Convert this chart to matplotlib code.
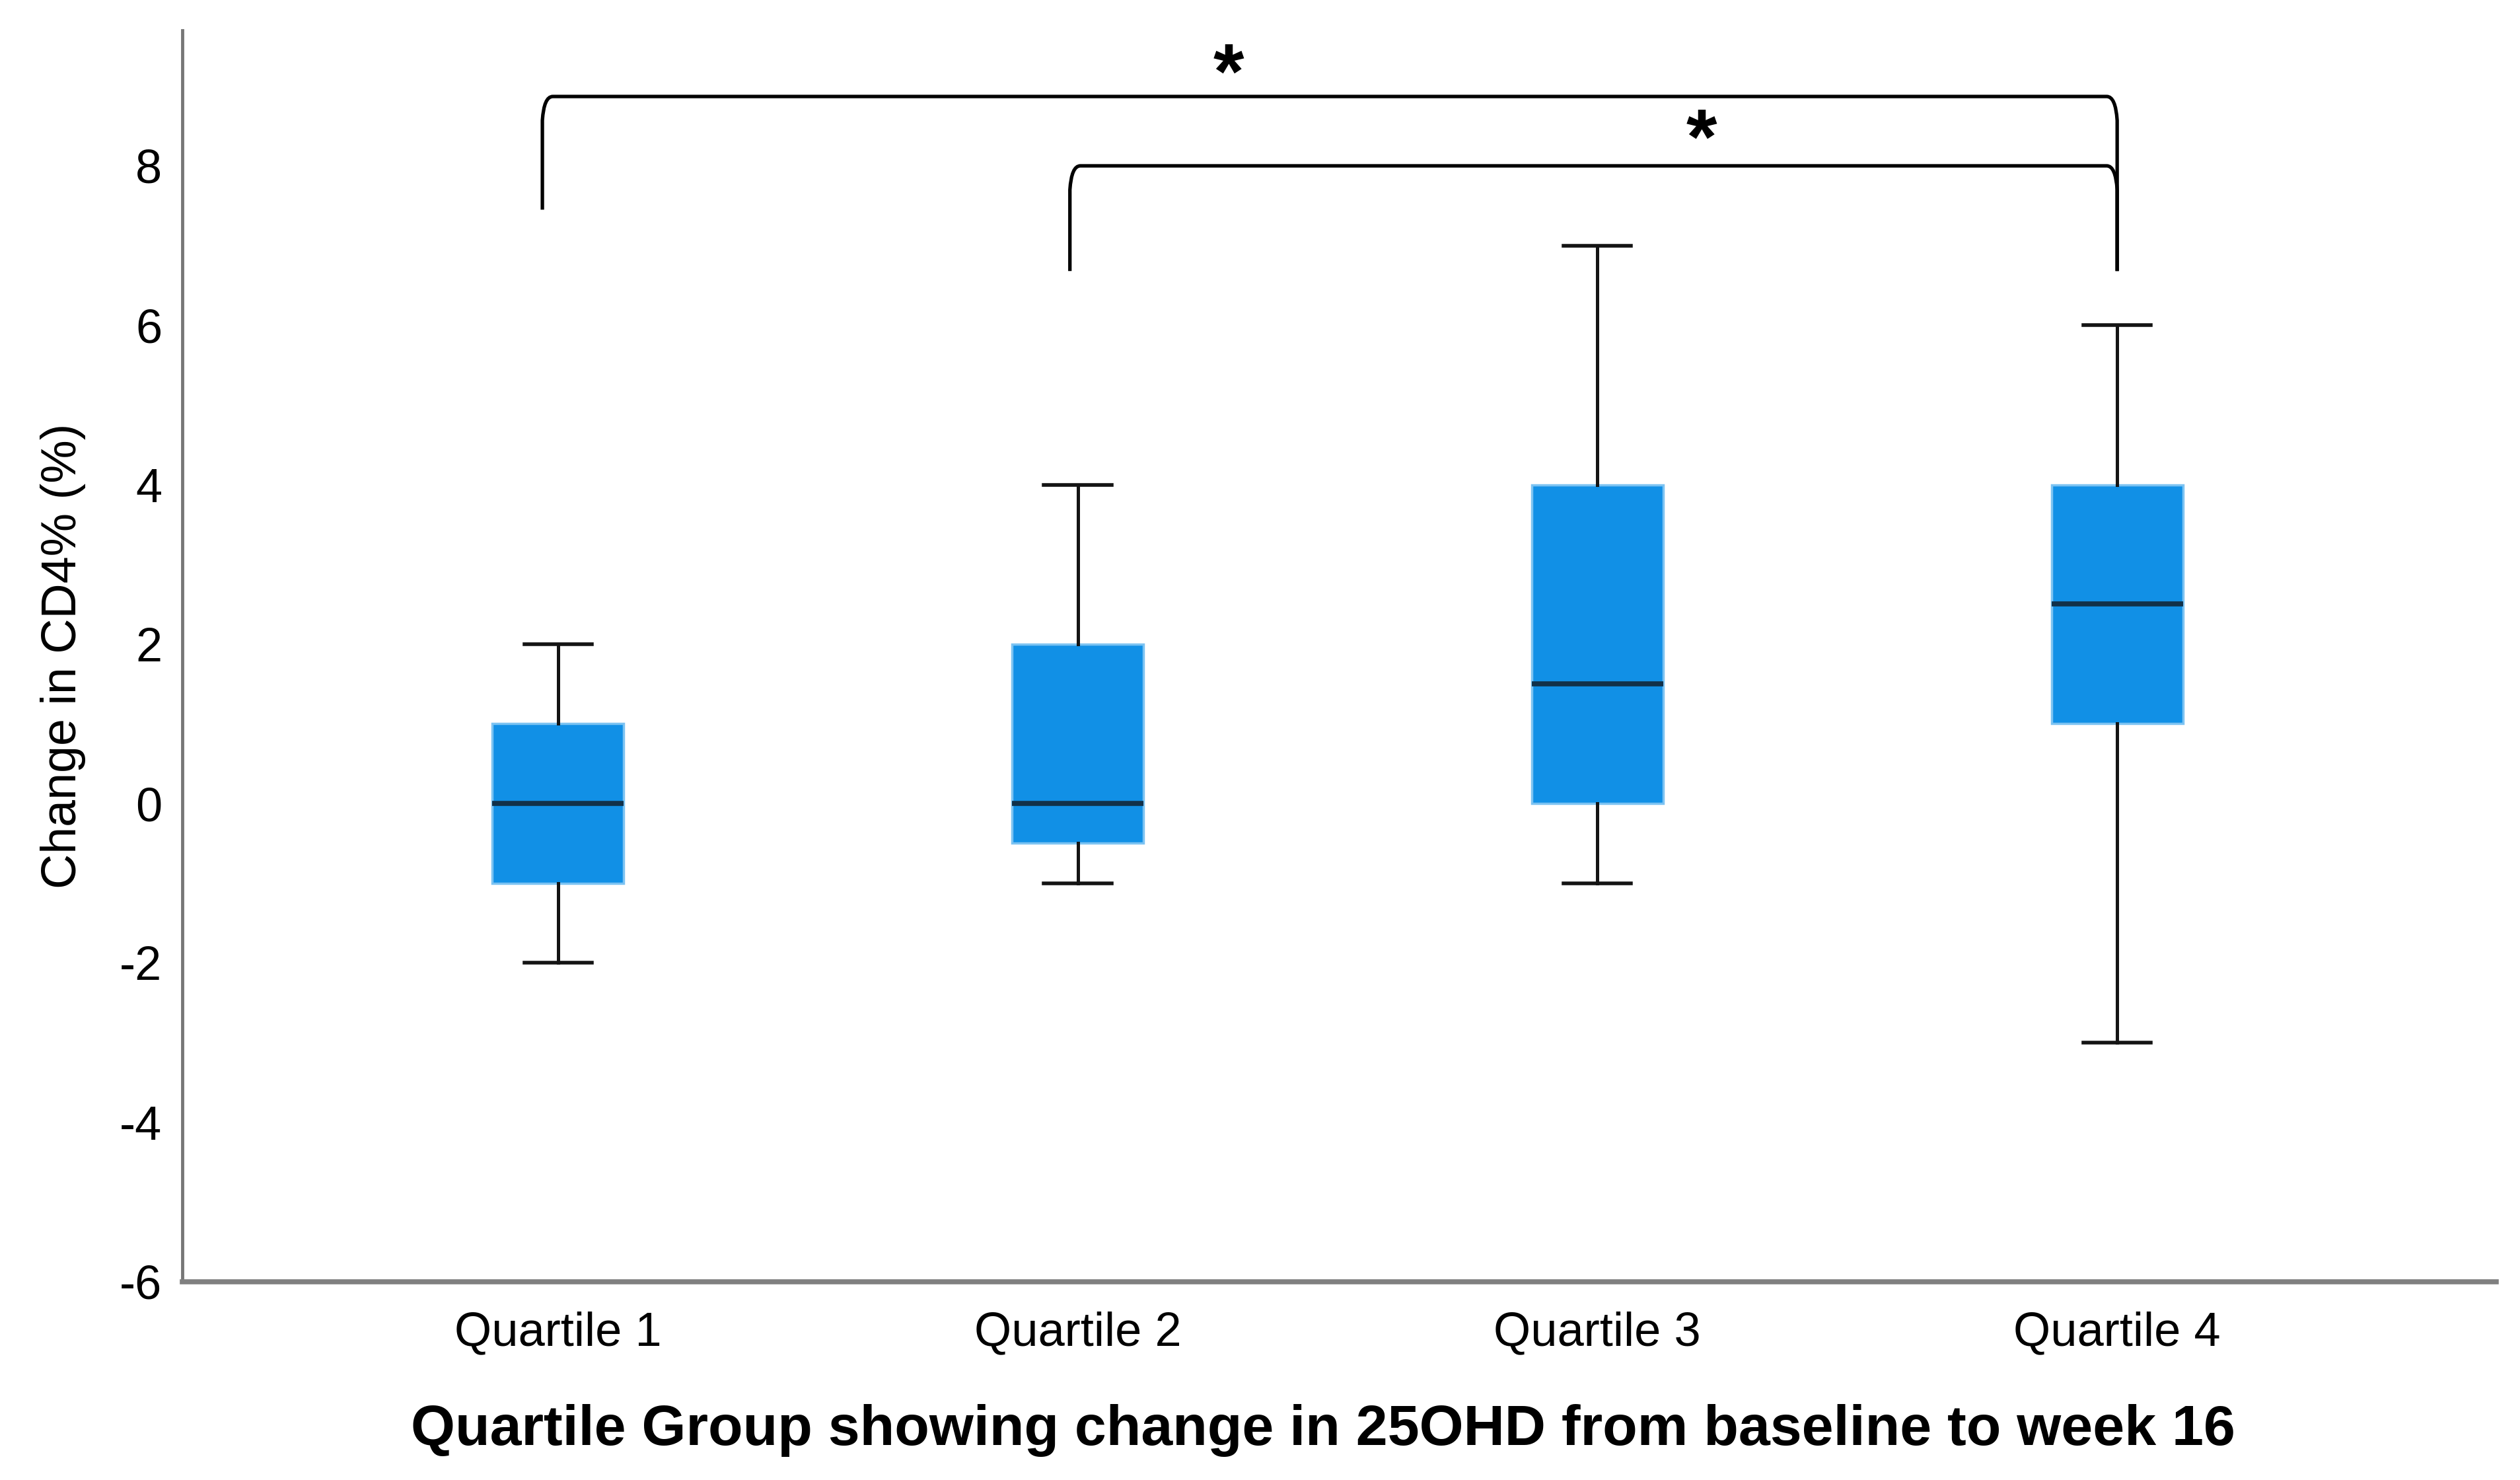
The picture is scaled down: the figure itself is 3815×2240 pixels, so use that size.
import matplotlib
matplotlib.use('Agg')
import matplotlib.pyplot as plt
from matplotlib.path import Path
from matplotlib.patches import PathPatch

# Donnees
groupes = ['Quartile 1', 'Quartile 2', 'Quartile 3', 'Quartile 4']
moustache_bas = [-2, -1, -1, -3]
q1 = [-1, -0.5, 0, 1]
medianes = [0, 0, 1.5, 2.5]
q3 = [1, 2, 4, 4]
moustache_haut = [2, 4, 7, 6]

# comparaisons significatives : (x gauche, x droit, hauteur, bas gauche, bas droit, x etoile, y etoile)
comparaisons = [
    (0.97, 4.0, 8.87, 7.45, 6.68, 2.29, 9.1),
    (1.985, 4.0, 8.0, 6.68, 6.68, 3.2, 8.28),
]

plt.rcParams['font.family'] = ['Liberation Sans', 'DejaVu Sans']
plt.rcParams['axes.unicode_minus'] = False

fig = plt.figure(figsize=(38.15, 22.4), dpi=100)
ax = fig.add_axes([0.0723, 0.134, 0.9182, 0.8455])

stats = []
for i in range(len(groupes)):
    stats.append({'whislo': moustache_bas[i], 'q1': q1[i], 'med': medianes[i],
                  'q3': q3[i], 'whishi': moustache_haut[i], 'fliers': []})

ax.bxp(stats, positions=range(1, len(groupes) + 1), widths=0.253, patch_artist=True,
       showfliers=False,
       boxprops=dict(facecolor='#1190e6', edgecolor='#7cc3f2', linewidth=2.5),
       medianprops=dict(color='#123149', linewidth=5.5),
       whiskerprops=dict(color='#141414', linewidth=3.6),
       capprops=dict(color='#141414', linewidth=4),
       capwidths=0.13)

# ------ Accolades ------
for xg, xd, h, bg, bd, xe, ye in comparaisons:
    r = 0.3
    rx = 0.02
    verts = [(xg, bg), (xg, h - r), (xg + 0.003, h), (xg + rx, h),
             (xd - rx, h), (xd - 0.003, h), (xd, h - r), (xd, bd)]
    codes = [Path.MOVETO, Path.LINETO, Path.CURVE3, Path.CURVE3,
             Path.LINETO, Path.CURVE3, Path.CURVE3, Path.LINETO]
    ax.add_patch(PathPatch(Path(verts, codes), fill=False, edgecolor='black',
                           linewidth=3.8, capstyle='butt'))
    ax.text(xe, ye, '*', fontsize=86, fontweight='bold', ha='center', va='center')

ax.set_xlim(0.277, 4.729)
ax.set_ylim(-6, 9.7)
ax.set_yticks([-6, -4, -2, 0, 2, 4, 6, 8])
ax.set_xticks(range(1, len(groupes) + 1))
ax.set_xticklabels(groupes)

for cote in ['top', 'right']:
    ax.spines[cote].set_visible(False)
ax.spines['left'].set_color('#777777')
ax.spines['left'].set_linewidth(3.5)
ax.spines['bottom'].set_color('#808080')
ax.spines['bottom'].set_linewidth(5.5)

ax.tick_params(axis='both', length=0, labelsize=52, colors='black')
ax.tick_params(axis='y', pad=22)
ax.tick_params(axis='x', pad=32)

# Titres des axes
ax.set_xlabel('Quartile Group showing change in 25OHD from baseline to week 16',
              fontsize=62, fontweight='bold')
ax.xaxis.set_label_coords(0.493, -0.098)
ax.set_ylabel('Change in CD4% (%)', fontsize=53, labelpad=37)

plt.savefig('out.png', dpi=100)
